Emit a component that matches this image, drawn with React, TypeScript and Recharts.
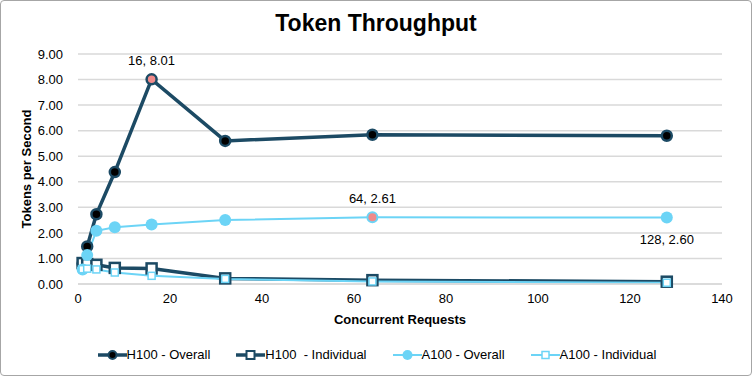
import React from 'react';
import { LineChart, Line, XAxis, YAxis, CartesianGrid, Legend, LabelList } from 'recharts';

// concurrent requests
const requests = [1, 2, 4, 8, 16, 32, 64, 128];
const h100Overall = [0.8, 1.47, 2.73, 4.38, 8.01, 5.6, 5.84, 5.8];
const h100Individual = [0.82, 0.78, 0.75, 0.63, 0.61, 0.22, 0.15, 0.09];
const a100Overall = [0.57, 1.13, 2.08, 2.22, 2.33, 2.5, 2.61, 2.6];
const a100Individual = [0.58, 0.6, 0.57, 0.45, 0.32, 0.2, 0.1, 0.05];
const xTicks = [0, 20, 40, 60, 80, 100, 120, 140];
const yTicks = [0, 1, 2, 3, 4, 5, 6, 7, 8, 9];

// points that carry a "x, y" label
const h100Labelled = [16];
const a100Labelled = [64, 128];
const highlighted = { h100: 16, a100: 64 };

const NAVY = '#1c4a64';
const SKY = '#6cd4f6';
const PINK = '#f08a8a';
const FONT = '"Liberation Sans", Arial, sans-serif';

const data = requests.map((r, i) => ({
  requests: r,
  h100Overall: h100Overall[i],
  h100Individual: h100Individual[i],
  a100Overall: a100Overall[i],
  a100Individual: a100Individual[i],
}));

const H100Dot = (props: any) => {
  const { cx, cy, payload } = props;
  const hot = payload.requests === highlighted.h100;
  return <circle key={`h1-${payload.requests}`} cx={cx} cy={cy} r={5} fill={hot ? PINK : '#000'} stroke={NAVY} strokeWidth={2.5} />;
};

const A100Dot = (props: any) => {
  const { cx, cy, payload } = props;
  const hot = payload.requests === highlighted.a100;
  return <circle key={`a1-${payload.requests}`} cx={cx} cy={cy} r={hot ? 5 : 6} fill={hot ? PINK : SKY} stroke={SKY} strokeWidth={hot ? 2 : 0} />;
};

const SquareDot = (color: string, size: number, sw: number) => (props: any) => {
  const { cx, cy, payload } = props;
  return (
    <rect key={`sq-${color}-${payload.requests}`} x={cx - size / 2} y={cy - size / 2} width={size} height={size} fill="#fff" stroke={color} strokeWidth={sw} />
  );
};

const pointLabel = (which: number[], below: number[]) => (props: any) => {
  const { x, y, value, index } = props;
  const r = requests[index];
  if (!which.includes(r)) return null;
  const under = below.includes(r);
  return (
    <text key={`lbl-${r}`} x={x} y={under ? y + 26 : y - 14} textAnchor="middle" fontSize={13} fontFamily={FONT} fill="#000">
      {`${r}, ${Number(value).toFixed(2)}`}
    </text>
  );
};

const legendItems = [
  { key: 'h100Overall', color: NAVY, width: 3.5, marker: 'dotDark' },
  { key: 'h100Individual', color: NAVY, width: 3.5, marker: 'square' },
  { key: 'a100Overall', color: SKY, width: 2, marker: 'dotSky' },
  { key: 'a100Individual', color: SKY, width: 2, marker: 'squareSky' },
];

const renderLegend = (props: any) => {
  const payload = [...(props.payload || [])].sort(
    (a: any, b: any) => legendItems.findIndex((l) => l.key === a.dataKey) - legendItems.findIndex((l) => l.key === b.dataKey)
  );
  return (
    <div style={{ display: 'flex', justifyContent: 'center', gap: 26, marginTop: 15, fontFamily: FONT, fontSize: 13 }}>
      {payload.map((p: any, i: number) => {
        const item = legendItems.find((l) => l.key === p.dataKey) || legendItems[i];
        return (
          <div key={p.value} style={{ display: 'flex', alignItems: 'center' }}>
            <svg width={29} height={14}>
              <line x1={0} y1={7} x2={29} y2={7} stroke={item.color} strokeWidth={item.width} />
              {item.marker === 'dotDark' && <circle cx={14.5} cy={7} r={4} fill="#000" stroke={NAVY} strokeWidth={2} />}
              {item.marker === 'square' && <rect x={10.5} y={3} width={8} height={8} fill="#fff" stroke={NAVY} strokeWidth={2} />}
              {item.marker === 'dotSky' && <circle cx={14.5} cy={7} r={5} fill={SKY} />}
              {item.marker === 'squareSky' && <rect x={11} y={3.5} width={7} height={7} fill="#fff" stroke={SKY} strokeWidth={1.5} />}
            </svg>
            <span style={{ color: '#000', whiteSpace: 'pre' }}>{p.value}</span>
          </div>
        );
      })}
    </div>
  );
};

export default function App() {
  return (
    <div style={{ position: 'relative', width: 752, height: 376, boxSizing: 'border-box', border: '1px solid #a6a6a6', borderRadius: 4, background: '#fff', fontFamily: FONT }}>
      <style>{`body{margin:0}`}</style>
      <div style={{ position: 'absolute', top: 9, left: 0, width: 750, textAlign: 'center', fontSize: 23, fontWeight: 'bold', color: '#000' }}>
        Token Throughput
      </div>
      <LineChart width={750} height={374} data={data} margin={{ top: 53, right: 29, bottom: 13, left: 0 }}>
        <CartesianGrid vertical={false} stroke="#d9d9d9" strokeWidth={1.5} />
        <XAxis
          dataKey="requests"
          type="number"
          domain={[0, 140]}
          ticks={xTicks}
          tickLine={false}
          axisLine={{ stroke: '#d9d9d9', strokeWidth: 1.5 }}
          tick={{ fontSize: 13, fill: '#000', fontFamily: FONT }}
          tickSize={0}
          tickMargin={10}
          height={48}
          label={{ value: 'Concurrent Requests', position: 'insideBottom', offset: 8, fontSize: 13, fontWeight: 'bold', fill: '#000', fontFamily: FONT }}
        />
        <YAxis
          type="number"
          domain={[0, 9]}
          ticks={yTicks}
          tickFormatter={(v: number) => v.toFixed(2)}
          tickLine={false}
          axisLine={false}
          tickSize={0}
          tickMargin={15}
          width={77}
          tick={{ fontSize: 13, fill: '#000', fontFamily: FONT }}
          label={{ value: 'Tokens per Second', angle: -90, position: 'insideLeft', offset: 25, style: { textAnchor: 'middle' }, fontSize: 13, fontWeight: 'bold', fill: '#000', fontFamily: FONT }}
        />
        <Legend verticalAlign="bottom" height={30} content={renderLegend} wrapperStyle={{ left: 0, width: 752 }} />
        <Line dataKey="h100Overall" name="H100 - Overall" stroke={NAVY} strokeWidth={3.5} dot={H100Dot} isAnimationActive={false}>
          <LabelList dataKey="h100Overall" content={pointLabel(h100Labelled, [])} />
        </Line>
        <Line dataKey="h100Individual" name="H100  - Individual" stroke={NAVY} strokeWidth={3.5} dot={SquareDot(NAVY, 10, 2.5)} isAnimationActive={false} />
        <Line dataKey="a100Overall" name="A100 - Overall" stroke={SKY} strokeWidth={2} dot={A100Dot} isAnimationActive={false}>
          <LabelList dataKey="a100Overall" content={pointLabel(a100Labelled, [128])} />
        </Line>
        <Line dataKey="a100Individual" name="A100 - Individual" stroke={SKY} strokeWidth={2} dot={SquareDot(SKY, 7, 1.5)} isAnimationActive={false} />
      </LineChart>
    </div>
  );
}
